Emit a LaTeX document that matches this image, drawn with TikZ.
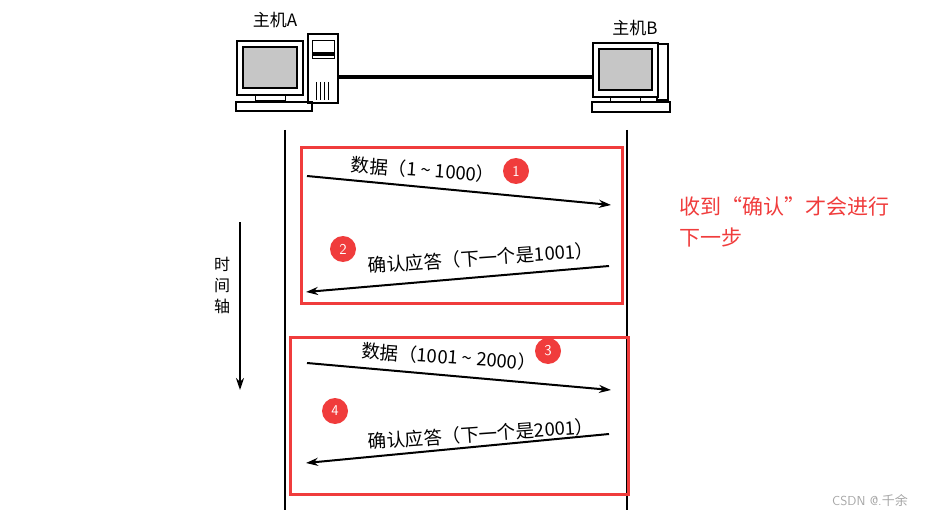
\documentclass[tikz,border=0pt]{standalone}
\usepackage{fontspec}
\setmainfont{Liberation Serif}
\newfontfamily\cjk{Noto Sans CJK SC}
\usetikzlibrary{arrows.meta}
\definecolor{rd}{HTML}{F03C3C}
\begin{document}
\begin{tikzpicture}[x=1pt,y=-1pt,
  lbl/.style={font=\cjk\fontsize{18.5}{20}\selectfont},
  msg/.style={line width=2pt,-{Stealth[length=12pt,width=8pt]}},
  num/.style={circle,fill=rd,text=white,minimum size=26pt,inner sep=0pt,font=\sffamily\fontsize{15}{16}\selectfont},
  box/.style={draw=rd,line width=3pt},
  scr/.style={draw,line width=1.2pt,fill=gray!45}]
\useasboundingbox (0,0) rectangle (929,516);
% host A
\draw[line width=1.2pt] (308,34) rectangle (338,103);
\draw (312,40) rectangle (334,58); \fill (312,52) rectangle (334,56);
\foreach \i in {316,320,324,328} \draw (\i,82) -- (\i,100);
\draw[line width=1.2pt,fill=white] (237,41) rectangle (303,95);
\draw[scr] (243,47) rectangle (297,88);
\draw[line width=1.2pt] (236,102) rectangle (312,111);
\draw (255,95) rectangle (285,100);
\node[lbl,font=\cjk\fontsize{17}{19}\selectfont] (hA) at (275,20) {主机A};
% host B
\draw[line width=1.2pt] (657,44) rectangle (668,100);
\draw[line width=1.2pt,fill=white] (593,43) rectangle (658,97);
\draw[scr] (599,49) rectangle (652,90);
\draw[line width=1.2pt] (592,102) rectangle (670,112);
\draw (610,97) rectangle (640,102);
\node[lbl,font=\cjk\fontsize{17}{19}\selectfont] (hB) at (635,28) {主机B};
\coordinate (cA) at (338,77); \coordinate (cB) at (593,77);
\draw[line width=4.5pt] (cA) -- (cB);
% timelines
\coordinate (a1) at (285,130); \coordinate (a2) at (285,510);
\coordinate (b1) at (627,130); \coordinate (b2) at (627,510);
\draw[line width=2.6pt] (a1) -- (a2);
\draw[line width=2.6pt] (b1) -- (b2);
% time axis
\coordinate (t1) at (240,222); \coordinate (t2) at (240,390);
\draw[line width=2pt,-{Stealth[length=12pt,width=8pt]}] (t1) -- (t2);
\node[lbl,align=center,font=\cjk\fontsize{16}{21}\selectfont] (tl) at (222,285) {时\\间\\轴};
% boxes
\draw[box] (301,148) rectangle (622,303);
\draw[box] (290,337) rectangle (628,494);
% messages
\coordinate (d1s) at (307,176); \coordinate (d1e) at (611,205);
\draw[msg] (d1s) -- (d1e);
\node[lbl,rotate=-4] (l1) at (423,170) {数据（\textit{1 \textasciitilde\ 1000}）};
\coordinate (k1s) at (609,266); \coordinate (k1e) at (306,292);
\draw[msg] (k1s) -- (k1e);
\node[lbl,rotate=4] (l2) at (481,258) {确认应答（下一个是1001）};
\coordinate (d2s) at (307,363); \coordinate (d2e) at (611,390);
\draw[msg] (d2s) -- (d2e);
\node[lbl,rotate=-4] (l3) at (449,357) {数据（\textit{1001 \textasciitilde\ 2000}）};
\coordinate (k2s) at (609,434); \coordinate (k2e) at (306,463);
\draw[msg] (k2s) -- (k2e);
\node[lbl,rotate=4] (l4) at (481,434) {确认应答（下一个是2001）};
\node[num] (n1) at (516,171) {1};
\node[num] (n2) at (343,249) {2};
\node[num] (n3) at (548,351) {3};
\node[num] (n4) at (335,411) {4};
% note
\node[anchor=west,text=rd,font=\cjk\fontsize{21}{31}\selectfont,align=left] (note) at (676,222) {收到“确认”才会进行\\下一步};
\node[text=gray!70,font=\sffamily\fontsize{13}{15}\selectfont] (wm) at (870,500) {CSDN @.\cjk 千余};
\end{tikzpicture}
\end{document}
